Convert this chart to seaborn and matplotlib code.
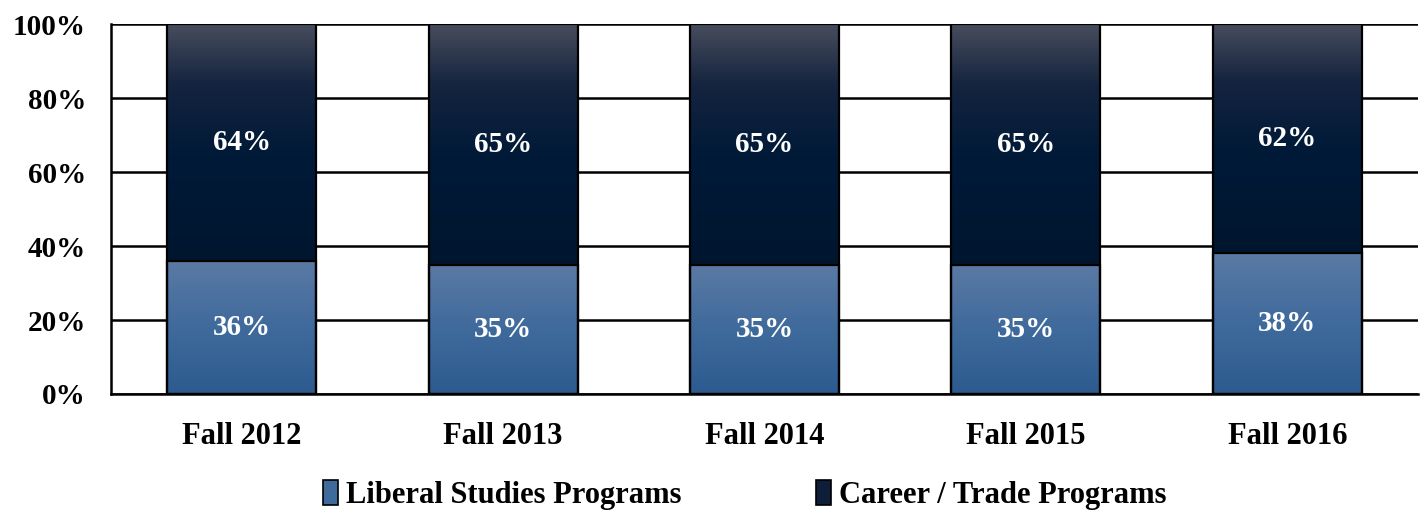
import numpy as np
import pandas as pd
import matplotlib
matplotlib.use("Agg")
import matplotlib.pyplot as plt
from matplotlib.colors import LinearSegmentedColormap
from matplotlib.patches import Patch
import seaborn as sns

# data
terms = ["Fall 2012", "Fall 2013", "Fall 2014", "Fall 2015", "Fall 2016"]
liberal = [36, 35, 35, 35, 38]
career = [64, 65, 65, 65, 62]
series_names = ["Liberal Studies Programs", "Career / Trade Programs"]

df = pd.DataFrame({"term": terms, "liberal": liberal, "career": career})
df["total"] = df["liberal"] + df["career"]

sns.set_style("white")
plt.rcParams["font.family"] = ["Liberation Serif", "DejaVu Serif"]
plt.rcParams["font.weight"] = "bold"
plt.rcParams["text.color"] = "black"
plt.rcParams["xtick.color"] = "black"
plt.rcParams["ytick.color"] = "black"

lib_cmap = LinearSegmentedColormap.from_list("lib", ["#2d5b8f", "#3f6a9c", "#5b7aa4"])
car_cmap = LinearSegmentedColormap.from_list(
    "car", [(0, "#00162f"), (0.45, "#001a38"), (0.75, "#15243f"), (1, "#474d5d")])

fig = plt.figure(figsize=(14.26, 5.13), dpi=100)
ax = fig.add_axes([0.0778, 0.232, 0.9166, 0.721])

# career stacked on top: draw full-height bar first, then liberal on top of it
sns.barplot(data=df, x="term", y="total", color="#001a38", width=0.57,
            edgecolor="black", linewidth=1.6, ax=ax)
sns.barplot(data=df, x="term", y="liberal", color="#3f6a9c", width=0.57,
            edgecolor="black", linewidth=1.6, ax=ax)

car_patches = ax.patches[:len(terms)]
lib_patches = ax.patches[len(terms):]

grad = np.linspace(0, 1, 256).reshape(-1, 1)
for cp, lp, lv, cv in zip(car_patches, lib_patches, df["liberal"], df["career"]):
    x0 = cp.get_x()
    x1 = x0 + cp.get_width()
    top = cp.get_y() + cp.get_height()
    mid = lp.get_y() + lp.get_height()
    ax.imshow(grad, cmap=car_cmap, origin="lower", aspect="auto",
              extent=(x0, x1, mid, top), zorder=2)
    ax.imshow(grad, cmap=lib_cmap, origin="lower", aspect="auto",
              extent=(x0, x1, lp.get_y(), mid), zorder=2)
    for p in (cp, lp):
        p.set_facecolor("none")
        p.set_zorder(3)
    ax.text((x0 + x1) / 2, (mid + top) / 2, f"{cv}%", ha="center", va="center",
            color="white", fontsize=21, fontweight="bold", zorder=4)
    ax.text((x0 + x1) / 2, (lp.get_y() + mid) / 2, f"{lv}%", ha="center", va="center",
            color="white", fontsize=21, fontweight="bold", zorder=4)

ax.set_xlim(-0.5, len(terms) - 0.5)
ax.set_ylim(0, 100)
ax.set_yticks(range(0, 101, 20))
ax.set_yticklabels([f"{v}%" for v in range(0, 101, 20)])
ax.yaxis.grid(True, color="black", linewidth=1.8, zorder=0)
ax.set_axisbelow(True)
ax.set_xlabel("")
ax.set_ylabel("")
ax.tick_params(axis="y", length=0, labelsize=21, pad=18)
ax.tick_params(axis="x", length=0, labelsize=22, pad=20)
for lbl in ax.get_xticklabels() + ax.get_yticklabels():
    lbl.set_fontweight("bold")

for side in ["top", "right"]:
    ax.spines[side].set_visible(False)
for side in ["left", "bottom"]:
    ax.spines[side].set_color("black")
    ax.spines[side].set_linewidth(1.8)

handles = [Patch(facecolor="#3f6a9c", edgecolor="black", linewidth=1.2),
           Patch(facecolor="#0f1e38", edgecolor="black", linewidth=1.2)]
fig.legend(handles, series_names, loc="center", bbox_to_anchor=(0.522, 0.035),
           ncol=2, frameon=False, handlelength=0.5, handleheight=0.85,
           handletextpad=0.25, columnspacing=4.4,
           prop={"weight": "bold", "size": 22})

fig.savefig("out.png", dpi=100)
